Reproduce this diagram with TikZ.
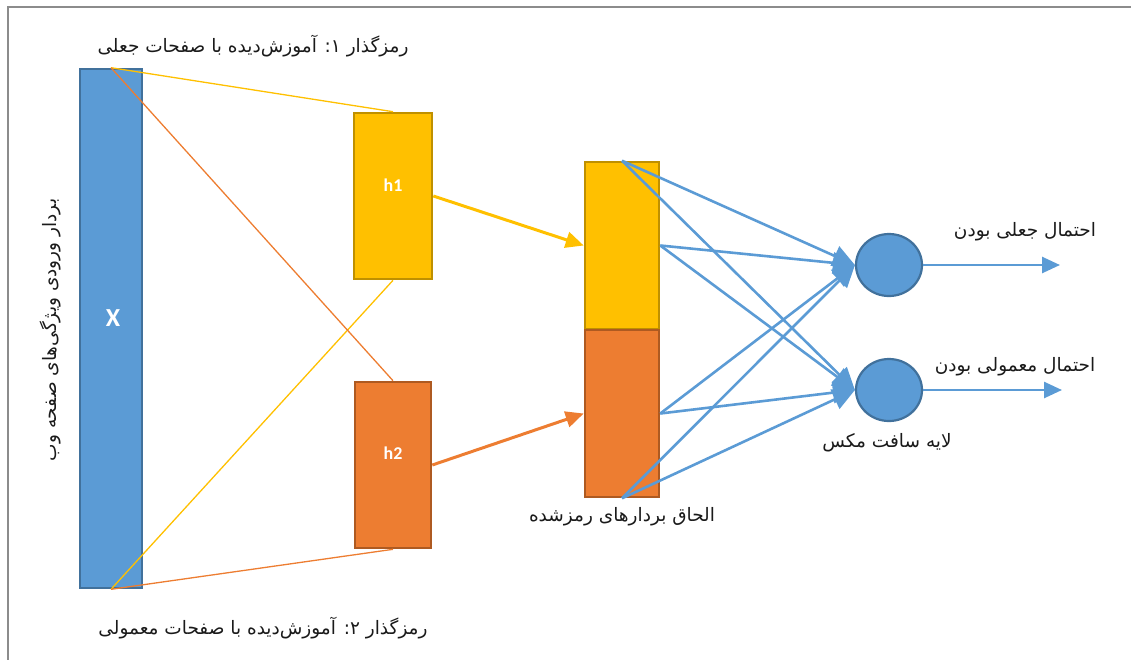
\documentclass[tikz,border=0pt]{standalone}
\usepackage{fontspec}
\setmainfont{DejaVu Sans}
\newfontfamily\arabicfont[Script=Arabic]{DejaVu Sans}
\newfontfamily\labelfont{Carlito}
\TeXXeTstate=1
\usetikzlibrary{arrows.meta,shapes.geometric}

\definecolor{inblue}{HTML}{5B9BD5}
\definecolor{inblueline}{HTML}{41719C}
\definecolor{encyellow}{HTML}{FFC000}
\definecolor{encyellowline}{HTML}{BF9000}
\definecolor{encorange}{HTML}{ED7D31}
\definecolor{encorangeline}{HTML}{AE5A21}
\definecolor{framegray}{HTML}{8C8C8C}
\definecolor{txt}{HTML}{1A1A1A}

\tikzset{
  box/.style={rectangle, line width=2.6pt, inner sep=0pt},
  yellowbox/.style={box, fill=encyellow, draw=encyellowline},
  orangebox/.style={box, fill=encorange, draw=encorangeline},
  boxtext/.style={font=\labelfont\bfseries\fontsize{18}{21}\selectfont, text=white, inner sep=0pt},
  unit/.style={ellipse, fill=inblue, draw=inblueline, line width=2.2pt,
    minimum width=66pt, minimum height=62pt, inner sep=0pt},
  fa/.style={font=\arabicfont\fontsize{18.5}{22}\selectfont, text=txt, inner sep=0pt},
  thinyellow/.style={draw=encyellow, line width=1.3pt},
  thinorange/.style={draw=encorange, line width=1.3pt},
  feedarrow/.style={line width=3pt, -{Triangle[length=18pt,width=16pt]}},
  softarrow/.style={draw=inblue, line width=2.6pt, -{Triangle[length=22pt,width=21pt]}},
  outarrow/.style={draw=inblue, line width=2.6pt, -{Triangle[length=18pt,width=16pt]}}
}

\begin{document}
\begin{tikzpicture}[x=1pt,y=-1pt]
\useasboundingbox (0,0) rectangle (1131,659);

% outer frame
\draw[framegray, line width=1.6pt] (8,670) -- (8,7) -- (1140,7);

% input vector
\node[box, fill=inblue, draw=inblueline, minimum width=62pt, minimum height=519pt] (X) at (111,328.5) {};
\node[boxtext, font=\labelfont\bfseries\fontsize{26}{30}\selectfont] (Xt) at (113,318) {X};

% encoders
\node[yellowbox, minimum width=78pt, minimum height=166pt] (h1) at (393,196) {};
\node[boxtext] (h1t) at (393,185) {h1};
\node[orangebox, minimum width=76pt, minimum height=166pt] (h2) at (393,465) {};
\node[boxtext] (h2t) at (393,453) {h2};

% concatenated code
\node[yellowbox, minimum width=74pt, minimum height=167pt] (cy) at (622,245.5) {};
\node[orangebox, minimum width=74pt, minimum height=167pt] (co) at (622,413.5) {};

% softmax units
\node[unit] (s1) at (889,265) {};
\node[unit] (s2) at (889,390) {};

% encoder fan-in lines
\draw[thinyellow] (X.north) -- (h1.north);
\draw[thinyellow] (X.south) -- (h1.south);
\draw[thinorange] (X.north) -- (h2.north);
\draw[thinorange] (X.south) -- (h2.south);

% encoder outputs into the concatenation
\draw[feedarrow, draw=encyellow, fill=encyellow] (h1.east) -- (cy.west);
\draw[feedarrow, draw=encorange, fill=encorange] (h2.east) -- (co.west);

% fully connected softmax layer
\foreach \src in {cy.north, cy.east, co.east, co.south}{
  \draw[softarrow, fill=inblue] (\src) -- (s1.west);
  \draw[softarrow, fill=inblue] (\src) -- (s2.west);
}

% outputs
\coordinate (o1) at (1060,265);
\coordinate (o2) at (1062,390);
\draw[outarrow, fill=inblue] (s1.east) -- (o1);
\draw[outarrow, fill=inblue] (s2.east) -- (o2);

% labels
\node[fa] (enc1) at (253,46) {\beginR رمزگذار ۱: آموزش‌دیده با صفحات جعلی\endR};
\node[fa] (enc2) at (263,628) {\beginR رمزگذار ۲: آموزش‌دیده با صفحات معمولی\endR};
\node[fa, rotate=90] (inlab) at (50,330) {\beginR بردار ورودی ویژگی‌های صفحه وب\endR};
\node[fa] (catlab) at (622,517) {\beginR الحاق بردارهای رمزشده\endR};
\node[fa] (smlab) at (887,443) {\beginR لایه سافت مکس\endR};
\node[fa] (p1) at (1025,232) {\beginR احتمال جعلی بودن\endR};
\node[fa] (p2) at (1015,367) {\beginR احتمال معمولی بودن\endR};
\end{tikzpicture}
\end{document}
